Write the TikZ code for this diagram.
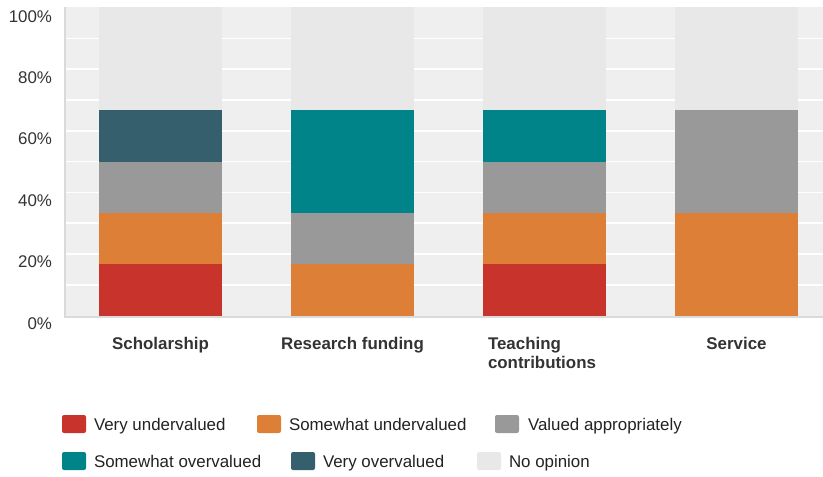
\documentclass[tikz,border=0pt]{standalone}
\usepackage{fontspec}
\setmainfont{Liberation Sans}
\definecolor{cRed}{HTML}{C8342B}
\definecolor{cOrange}{HTML}{DD7F36}
\definecolor{cGray}{HTML}{999999}
\definecolor{cTeal}{HTML}{008489}
\definecolor{cDark}{HTML}{365F6E}
\definecolor{cNone}{HTML}{E8E8E8}
\definecolor{cBg}{HTML}{EFEFEF}
\definecolor{cAxis}{HTML}{DADADA}
\definecolor{cText}{HTML}{333333}
\definecolor{cLeg}{HTML}{222222}
\begin{document}
\begin{tikzpicture}[x=1pt,y=-1pt,
  every node/.style={inner sep=0pt, outer sep=0pt, text=cText, font=\fontsize{16.9}{19}\selectfont},
  ticklabel/.style={anchor=base east},
  catlabel/.style={anchor=base, font=\fontsize{16.9}{19}\selectfont\bfseries},
  legtext/.style={anchor=base west, text=cLeg},
  swatch/.style={rounded corners=2pt},
  grid line/.style={white, line width=1.6pt}]
\useasboundingbox (0,0) rectangle (823,477);
% plot background
\fill[cBg] (66,7) rectangle (823,315.5);
\foreach \k in {1,...,9} \draw[grid line] (66,{315.5-30.8*\k}) -- (823,{315.5-30.8*\k});
% axes
\draw[cAxis, line width=2pt] (64.5,7) -- (64.5,316.5) -- (823,316.5);
% helper: percent to y
\def\py#1{315.5-3.08*#1}
% Scholarship
\fill[cRed]    (99,{\py{0}})     rectangle (222,{\py{16.67}});
\fill[cOrange] (99,{\py{16.67}}) rectangle (222,{\py{33.33}});
\fill[cGray]   (99,{\py{33.33}}) rectangle (222,{\py{50}});
\fill[cDark]   (99,{\py{50}})    rectangle (222,{\py{66.67}});
\fill[cNone]   (99,{\py{66.67}}) rectangle (222,7);
% Research funding
\fill[cOrange] (291,{\py{0}})     rectangle (414,{\py{16.67}});
\fill[cGray]   (291,{\py{16.67}}) rectangle (414,{\py{33.33}});
\fill[cTeal]   (291,{\py{33.33}}) rectangle (414,{\py{66.67}});
\fill[cNone]   (291,{\py{66.67}}) rectangle (414,7);
% Teaching contributions
\fill[cRed]    (483,{\py{0}})     rectangle (606,{\py{16.67}});
\fill[cOrange] (483,{\py{16.67}}) rectangle (606,{\py{33.33}});
\fill[cGray]   (483,{\py{33.33}}) rectangle (606,{\py{50}});
\fill[cTeal]   (483,{\py{50}})    rectangle (606,{\py{66.67}});
\fill[cNone]   (483,{\py{66.67}}) rectangle (606,7);
% Service
\fill[cOrange] (675,{\py{0}})     rectangle (798,{\py{33.33}});
\fill[cGray]   (675,{\py{33.33}}) rectangle (798,{\py{66.67}});
\fill[cNone]   (675,{\py{66.67}}) rectangle (798,7);
% tick labels
\node[ticklabel] (t100) at (52,22) {100\%};
\node[ticklabel] (t80) at (52,{\py{80}+14}) {80\%};
\node[ticklabel] (t60) at (52,{\py{60}+14}) {60\%};
\node[ticklabel] (t40) at (52,{\py{40}+14}) {40\%};
\node[ticklabel] (t20) at (52,{\py{20}+14}) {20\%};
\node[ticklabel] (t0) at (52,{\py{0}+14}) {0\%};
% category labels
\node[catlabel] (cat1) at (160.5,349) {Scholarship};
\node[catlabel] (cat2) at (352.5,349) {Research funding};
\node[catlabel, anchor=base west] (cat3a) at (488,349) {Teaching};
\node[catlabel, anchor=base west] (cat3b) at (488,368) {contributions};
\node[catlabel] (cat4) at (736.5,349) {Service};
% legend
\fill[cRed, swatch]    (62,415) rectangle (86,433);
\node[legtext] (l1) at (94,430) {Very undervalued};
\fill[cOrange, swatch] (257,415) rectangle (281,433);
\node[legtext] (l2) at (289,430) {Somewhat undervalued};
\fill[cGray, swatch]   (495,415) rectangle (519,433);
\node[legtext] (l3) at (528,430) {Valued appropriately};
\fill[cTeal, swatch]   (62,452) rectangle (86,470);
\node[legtext] (l4) at (94,467) {Somewhat overvalued};
\fill[cDark, swatch]   (291,452) rectangle (315,470);
\node[legtext] (l5) at (323,467) {Very overvalued};
\fill[cNone, swatch]   (477,452) rectangle (501,470);
\node[legtext] (l6) at (509,467) {No opinion};
\end{tikzpicture}
\end{document}
